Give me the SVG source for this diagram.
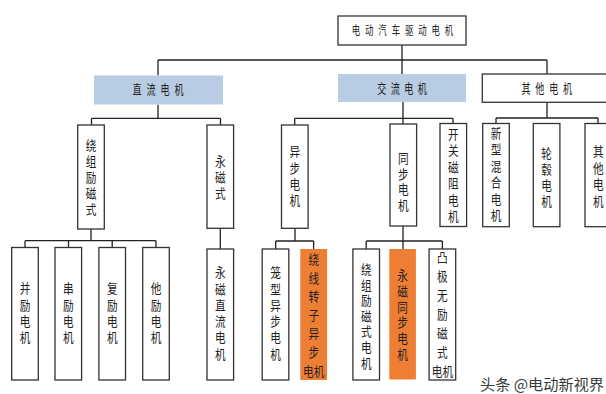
<svg xmlns="http://www.w3.org/2000/svg" width="606" height="394" viewBox="0 0 606 394">
<style>
.bx{fill:#fff;stroke:#333;stroke-width:1.3}
.blue{fill:#b8cce4;stroke:none}
.org{fill:#ef7e35;stroke:none}
.ln{fill:none;stroke:#222;stroke-width:1.3}
text{font-family:"Noto Sans CJK SC","Noto Sans",sans-serif;fill:#222;text-anchor:middle}
.v{font-size:13px}
.h{font-size:13px}
.t{font-size:12px}
.wm{font-size:15px;fill:#3a3a3a;text-anchor:start}
</style>
<rect width="606" height="394" fill="#fff"/>
<g id="connectors" class="ln">
<path d="M402 45V74M158 60H547M158 60V75.5M547 60V74"/>
<path d="M158 104.5V118.3M91.5 118.3H220.5M91.5 118.3V125M220.5 118.3V125"/>
<path d="M403 102V124M294.7 118.3H453M294.7 118.3V125M453 118.3V123.5"/>
<path d="M547 102.3V118M496 118H598M496 118V123.5M598 118V123.5"/>
<path d="M91 229V240.7M25 240.7H156M25 240.7V247.5M68.5 240.7V247.5M112.2 240.7V247.5M156 240.7V247.5"/>
<path d="M220.3 228.3V249"/>
<path d="M295 228.3V241M275.7 241H313.6M275.7 241V249M313.6 241V249"/>
<path d="M403 226V249M366.2 241H442.4M366.2 241V249M442.4 241V249"/>
</g>
<g id="root"><rect class="bx" x="338" y="16" width="128" height="29"/>
<text class="t" transform="translate(402.5 35) scale(0.7 1)" x="-66.5 -47.5 -28.5 -9.5 9.5 28.5 47.5 66.5" y="0">电动汽车驱动电机</text></g>
<g id="dc"><rect class="blue" x="94" y="75.5" width="129" height="29"/>
<text class="h" transform="translate(158 94) scale(0.7 1)" x="-30 -10 10 30" y="0">直流电机</text></g>
<g id="ac"><rect class="blue" x="338" y="74" width="128" height="28"/>
<text class="h" transform="translate(402 93) scale(0.7 1)" x="-29 -9.7 9.7 29" y="0">交流电机</text></g>
<g id="other"><rect class="bx" x="482.3" y="74" width="130" height="28.3"/>
<text class="h" transform="translate(546.8 93) scale(0.7 1)" x="-29.6 -9.9 9.9 29.6" y="0">其他电机</text></g>

<g id="wound"><rect class="bx" x="77.7" y="125" width="26.6" height="104"/>
<text class="v" transform="translate(91 0) scale(0.82 1)" x="0 0 0 0 0" y="150 166 182 198 214">绕组励磁式</text></g>
<g id="pm"><rect class="bx" x="207" y="125" width="26.6" height="103.3"/>
<text class="v" transform="translate(220.3 0) scale(0.82 1)" x="0 0 0" y="166.5 182.5 198.5">永磁式</text></g>
<g id="async"><rect class="bx" x="281.5" y="125" width="26.6" height="103.3"/>
<text class="v" transform="translate(294.8 0) scale(0.82 1)" x="0 0 0 0" y="156.5 172.7 188.9 205.1">异步电机</text></g>
<g id="sync"><rect class="bx" x="390" y="124" width="26.6" height="102"/>
<text class="v" transform="translate(403.3 0) scale(0.82 1)" x="0 0 0 0" y="163 178.6 194.2 209.8">同步电机</text></g>
<g id="srm"><rect class="bx" x="440" y="123.5" width="26.6" height="103"/>
<text class="v" transform="translate(453.3 0) scale(0.82 1)" x="0 0 0 0 0 0" y="139 155.5 172 188.5 205 221.5">开关磁阻电机</text></g>
<g id="hybrid"><rect class="bx" x="482.7" y="123.5" width="26.6" height="103.2"/>
<text class="v" transform="translate(496 0) scale(0.82 1)" x="0 0 0 0 0 0" y="138 154.5 171 187.5 204 220.5">新型混合电机</text></g>
<g id="hub"><rect class="bx" x="533.3" y="123.5" width="26.6" height="103.2"/>
<text class="v" transform="translate(546.6 0) scale(0.82 1)" x="0 0 0 0" y="158.5 174.3 190.1 205.9">轮毂电机</text></g>
<g id="others"><rect class="bx" x="585" y="123.5" width="26.6" height="103.2"/>
<text class="v" transform="translate(598.3 0) scale(0.82 1)" x="0 0 0 0" y="156.5 173 189.5 206">其他电机</text></g>

<g id="shunt"><rect class="bx" x="11.7" y="247.5" width="26.6" height="132.5"/>
<text class="v" transform="translate(25 0) scale(0.82 1)" x="0 0 0 0" y="293.3 309.7 326.1 342.5">并励电机</text></g>
<g id="series"><rect class="bx" x="55" y="247.5" width="26.6" height="132.5"/>
<text class="v" transform="translate(68.3 0) scale(0.82 1)" x="0 0 0 0" y="293.3 309.7 326.1 342.5">串励电机</text></g>
<g id="compound"><rect class="bx" x="98.9" y="247.5" width="26.6" height="132.5"/>
<text class="v" transform="translate(112.2 0) scale(0.82 1)" x="0 0 0 0" y="293.3 309.7 326.1 342.5">复励电机</text></g>
<g id="separate"><rect class="bx" x="142.7" y="247.5" width="26.6" height="132.5"/>
<text class="v" transform="translate(156 0) scale(0.82 1)" x="0 0 0 0" y="293.3 309.7 326.1 342.5">他励电机</text></g>
<g id="pmdc"><rect class="bx" x="207" y="249" width="26.6" height="131"/>
<text class="v" transform="translate(220.3 0) scale(0.82 1)" x="0 0 0 0 0 0" y="277.3 293.6 309.9 326.2 342.5 358.8">永磁直流电机</text></g>
<g id="cage"><rect class="bx" x="262.2" y="249" width="26.6" height="131"/>
<text class="v" transform="translate(275.5 0) scale(0.82 1)" x="0 0 0 0 0 0" y="277.3 293.6 309.9 326.2 342.5 358.8">笼型异步电机</text></g>
<g id="woundrotor"><rect class="org" x="300.3" y="249" width="26.8" height="131"/>
<text class="v" transform="translate(313.7 0) scale(0.82 1)" x="0 0 0 0 0 0 0" y="264 282.6 301.2 319.8 338.4 357 375.6">绕线转子异步电机</text></g>
<g id="woundsync"><rect class="bx" x="352.9" y="249" width="26.6" height="131"/>
<text class="v" transform="translate(366.2 0) scale(0.82 1)" x="0 0 0 0 0 0 0" y="274 289.6 305.2 320.8 336.4 352 367.6">绕组励磁式电机</text></g>
<g id="pmsm"><rect class="org" x="389.3" y="249" width="26.6" height="130.5"/>
<text class="v" transform="translate(402.6 0) scale(0.82 1)" x="0 0 0 0 0 0" y="280 295.8 311.6 327.4 343.2 359">永磁同步电机</text></g>
<g id="salient"><rect class="bx" x="429.1" y="249" width="26.6" height="131"/>
<text class="v" transform="translate(442.4 0) scale(0.82 1)" x="0 0 0 0 0 0 0" y="262.3 281.2 300.1 319 337.9 356.8 375.7">凸极无励磁式电机</text></g>

<text class="wm" x="480" y="390" textLength="124" lengthAdjust="spacingAndGlyphs">头条 @电动新视界</text>
</svg>
